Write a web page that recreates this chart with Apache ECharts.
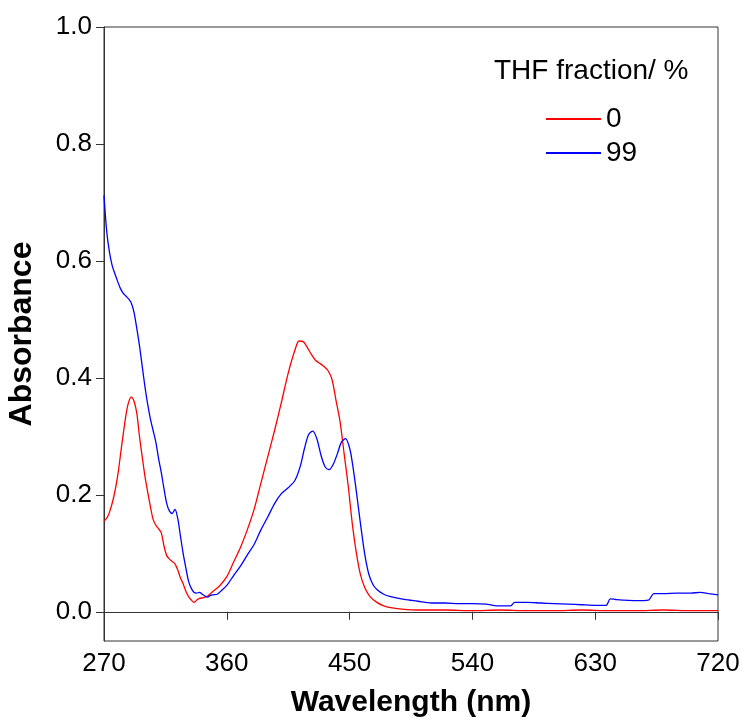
<!DOCTYPE html>
<html><head><meta charset="utf-8">
<script src="https://cdn.jsdelivr.net/npm/echarts@6/dist/echarts.min.js"></script>
<style>html,body{margin:0;padding:0;background:#fff}#c{width:746px;height:726px}</style>
</head><body><div id="c"></div>
<script>
const xTicks = [270, 360, 450, 540, 630, 720];
const yTicks = [0, 0.2, 0.4, 0.6, 0.8, 1.0];
const legendTitle = 'THF fraction/ %';
const seriesNames = ['0', '99'];

const wlRed = [270,272,274,277,280,283,286,288,290,292,294,296,298,300,302,304,306,308,310,312,314,316,318,320,322,324,326,328,330,332,334,336,338,340,343,346,350,355,360,365,370,375,380,385,390,395,400,405,410,413,416,419,422,425,428,431,434,437,440,443,446,449,452,455,458,461,465,470,475,480,490,500,520,540,560,580,600,620,640,660,680,700,720];
const absRed = [0.155,0.160,0.170,0.195,0.232,0.285,0.335,0.358,0.367,0.360,0.340,0.300,0.265,0.232,0.205,0.180,0.158,0.148,0.142,0.135,0.112,0.096,0.090,0.086,0.082,0.072,0.058,0.048,0.035,0.026,0.020,0.016,0.020,0.023,0.024,0.027,0.035,0.045,0.060,0.085,0.110,0.140,0.175,0.220,0.265,0.310,0.358,0.408,0.448,0.463,0.462,0.452,0.440,0.430,0.425,0.420,0.413,0.398,0.362,0.325,0.270,0.215,0.150,0.100,0.063,0.042,0.026,0.016,0.010,0.007,0.004,0.003,0.003,0.002,0.003,0.002,0.002,0.003,0.002,0.002,0.003,0.002,0.002];

const wlBlue = [270,272,274,276,278,280,282,284,286,288,290,292,294,296,298,300,302,304,306,308,310,312,314,316,318,320,322,324,326,328,330,332,334,336,338,340,342,344,346,348,350,353,356,360,365,370,375,380,385,390,395,400,405,410,414,417,420,423,426,429,432,435,438,441,444,447,450,452,455,458,461,464,467,470,475,480,490,500,510,520,530,540,550,558,568,571,580,590,600,610,620,630,638,641,645,650,660,669,673,680,690,700,707,713,720];
const absBlue = [0.712,0.650,0.615,0.592,0.578,0.565,0.553,0.545,0.540,0.535,0.528,0.512,0.485,0.455,0.420,0.385,0.355,0.330,0.310,0.290,0.262,0.238,0.210,0.185,0.172,0.168,0.175,0.160,0.130,0.100,0.075,0.052,0.040,0.033,0.032,0.033,0.030,0.027,0.025,0.028,0.029,0.030,0.036,0.045,0.062,0.078,0.097,0.115,0.140,0.162,0.185,0.202,0.212,0.225,0.250,0.280,0.303,0.309,0.296,0.268,0.248,0.243,0.252,0.270,0.290,0.296,0.280,0.255,0.205,0.150,0.100,0.065,0.047,0.038,0.030,0.026,0.021,0.018,0.015,0.015,0.014,0.014,0.013,0.010,0.010,0.016,0.016,0.015,0.014,0.013,0.012,0.011,0.011,0.022,0.021,0.020,0.019,0.020,0.031,0.031,0.032,0.032,0.033,0.031,0.029];

const FONT = 'Liberation Sans, Arial, sans-serif';
const toPairs = (xs, ys) => xs.map((x, i) => [x, ys[i]]);

const chart = echarts.init(document.getElementById('c'));
chart.setOption({
  animation: false,
  backgroundColor: '#fff',
  title: {
    text: legendTitle, left: 489, top: 52,
    textStyle: { fontFamily: FONT, fontSize: 28, fontWeight: 'normal', color: '#000' }
  },
  legend: {
    orient: 'vertical', left: 540, top: 100, itemWidth: 55, itemHeight: 14, itemGap: 6,
    textStyle: { fontFamily: FONT, fontSize: 28, color: '#000' },
    itemStyle: { opacity: 0 },
    data: seriesNames
  },
  grid: { left: 104, right: 28, top: 27, bottom: 85, show: true, borderColor: '#333', borderWidth: 1, containLabel: false, outerBoundsMode: 'none' },
  xAxis: {
    type: 'value', min: xTicks[0], max: xTicks[xTicks.length - 1], interval: 90,
    name: 'Wavelength (nm)', nameLocation: 'middle', nameGap: 47,
    nameTextStyle: { fontFamily: FONT, fontSize: 30, fontWeight: 'bold', color: '#000' },
    axisLine: { lineStyle: { color: '#333', width: 1 } },
    axisTick: { inside: false, length: 8, lineStyle: { color: '#333' } },
    axisLabel: { fontFamily: FONT, fontSize: 26, color: '#000', margin: 10 },
    splitLine: { show: false }
  },
  yAxis: {
    type: 'value', min: -0.05, max: 1.0,
    name: 'Absorbance', nameLocation: 'middle', nameGap: 66,
    nameTextStyle: { fontFamily: FONT, fontSize: 32, fontWeight: 'bold', color: '#000' },
    axisLine: { show: true, lineStyle: { color: '#333', width: 1 } },
    axisTick: { show: true, inside: false, length: 8, lineStyle: { color: '#333' }, customValues: yTicks },
    axisLabel: { fontFamily: FONT, fontSize: 26, color: '#000', margin: 12, customValues: yTicks, formatter: v => v.toFixed(1) },
    splitLine: { show: false }
  },
  series: [
    { name: seriesNames[0], type: 'line', data: toPairs(wlRed, absRed), symbol: 'none', smooth: 0.3,
      lineStyle: { color: '#ff0000', width: 1.3 }, itemStyle: { color: '#ff0000' } },
    { name: seriesNames[1], type: 'line', data: toPairs(wlBlue, absBlue), symbol: 'none', smooth: 0.3,
      lineStyle: { color: '#0000ff', width: 1.3 }, itemStyle: { color: '#0000ff' } }
  ]
});
</script></body></html>
